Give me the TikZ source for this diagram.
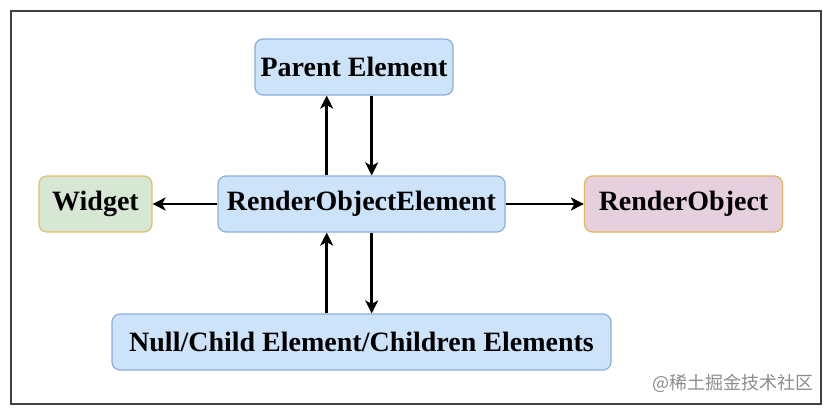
\documentclass[tikz,border=0pt]{standalone}
\usepackage{fontspec}
\setmainfont{Liberation Serif}
\newfontfamily\cjk{Noto Sans CJK SC}
\usetikzlibrary{arrows.meta}
\definecolor{bluefill}{HTML}{CCE3FA}
\definecolor{bluedraw}{HTML}{8AAEDB}
\definecolor{greenfill}{HTML}{D6E8D4}
\definecolor{greendraw}{HTML}{DDC06A}
\definecolor{pinkfill}{HTML}{E6D0DE}
\definecolor{pinkdraw}{HTML}{E3B45E}
\tikzset{
  box/.style={rounded corners=8pt, line width=1.2pt, inner sep=0pt,
    font=\fontsize{28}{31}\selectfont\bfseries, text=black},
  bluebox/.style={box, fill=bluefill, draw=bluedraw},
  greenbox/.style={box, fill=greenfill, draw=greendraw},
  pinkbox/.style={box, fill=pinkfill, draw=pinkdraw},
  conn/.style={line width=2.6pt, draw=black, -{Stealth[length=13pt,width=13pt,inset=3.5pt]}},
}
\begin{document}
\begin{tikzpicture}[x=1pt,y=-1pt]
\useasboundingbox (0,0) rectangle (830,416);
\draw[line width=2pt, draw=black!75] (11,11) rectangle (821,404);
\node[bluebox, minimum width=198pt, minimum height=56pt] (parent) at (354,67) {Parent Element};
\node[bluebox, minimum width=287pt, minimum height=56pt] (reo) at (361.5,204) {RenderObjectElement};
\node[greenbox, minimum width=113pt, minimum height=56pt] (widget) at (95.5,204) {Widget};
\node[pinkbox, minimum width=198pt, minimum height=56pt] (ro) at (683.5,204) {RenderObject};
\node[bluebox, minimum width=499pt, minimum height=56pt] (kids) at (361.5,342) {Null/Child Element/Children Elements};
\node[font=\cjk\fontsize{18}{20}\selectfont, text=black!45, anchor=east] (wm) at (817,383) {@稀土掘金技术社区};
\draw[conn] (reo.north -| 326.7,0) -- (parent.south -| 326.7,0);
\draw[conn] (parent.south -| 371.7,0) -- (reo.north -| 371.7,0);
\draw[conn] (reo.west) -- (widget.east);
\draw[conn] (reo.east) -- (ro.west);
\draw[conn] (kids.north -| 326.7,0) -- (reo.south -| 326.7,0);
\draw[conn] (reo.south -| 371.7,0) -- (kids.north -| 371.7,0);
\end{tikzpicture}
\end{document}
